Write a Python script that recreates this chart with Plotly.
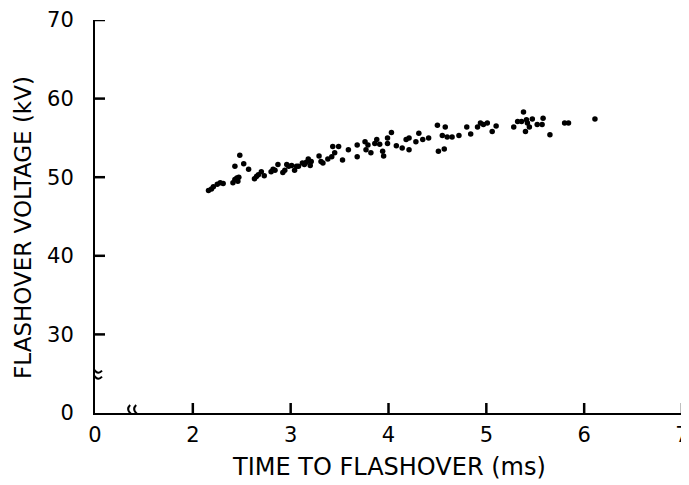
import plotly.graph_objects as go

# Time to flashover (ms)
time_ms = [2.16, 2.19, 2.21, 2.25, 2.28, 2.31, 2.41, 2.43, 2.45, 2.47, 2.46, 2.43, 2.48, 2.52, 2.57,
           2.63, 2.65, 2.67, 2.70, 2.73, 2.80, 2.82, 2.84, 2.87, 2.92, 2.94, 2.96, 2.98, 3.01, 3.04,
           3.06, 3.08, 3.12, 3.14, 3.16, 3.18, 3.20, 3.21, 3.29, 3.31, 3.33, 3.38, 3.42, 3.43, 3.45,
           3.49, 3.53, 3.59, 3.68, 3.68, 3.76, 3.77, 3.79, 3.82, 3.86, 3.88, 3.91, 3.94, 3.95, 3.99,
           3.99, 4.03, 4.08, 4.14, 4.18, 4.21, 4.21, 4.28, 4.31, 4.35, 4.41, 4.50, 4.51, 4.55, 4.57,
           4.58, 4.60, 4.65, 4.72, 4.80, 4.84, 4.91, 4.94, 4.97, 5.01, 5.06, 5.10, 5.28, 5.32, 5.36,
           5.38, 5.41, 5.42, 5.40, 5.44, 5.47, 5.52, 5.57, 5.58, 5.65, 5.80, 5.84, 6.11]
# Flashover voltage (kV)
voltage_kv = [48.3, 48.5, 48.8, 49.1, 49.3, 49.2, 49.3, 49.7, 49.9, 50.0, 49.5, 51.4, 52.8, 51.7, 51.0,
              49.8, 50.1, 50.3, 50.7, 50.2, 50.7, 51.0, 50.9, 51.6, 50.6, 50.9, 51.6, 51.4, 51.5, 50.9,
              51.4, 51.4, 51.8, 51.6, 51.9, 52.3, 51.5, 52.0, 52.7, 52.0, 51.8, 52.3, 52.6, 53.9, 53.1,
              53.9, 52.2, 53.5, 54.1, 52.6, 54.5, 53.5, 54.1, 53.1, 54.3, 54.8, 54.2, 53.3, 52.7, 55.0,
              54.3, 55.7, 54.0, 53.7, 54.8, 55.0, 53.5, 54.5, 55.6, 54.8, 55.0, 56.6, 53.3, 55.3, 53.6,
              56.4, 55.1, 55.1, 55.3, 56.4, 55.5, 56.4, 56.9, 56.7, 56.9, 55.8, 56.5, 56.4, 57.1, 57.1,
              58.3, 57.3, 56.9, 55.8, 56.4, 57.4, 56.7, 56.7, 57.5, 55.4, 56.9, 56.9, 57.4]

x_tickvals = [1, 2, 3, 4, 5, 6, 7]
x_ticktext = ["0", "2", "3", "4", "5", "6", "7"]
y_tickvals = [20, 30, 40, 50, 60, 70]
y_ticktext = ["0", "30", "40", "50", "60", "70"]

x_title = "TIME TO FLASHOVER (ms)"
y_title = "FLASHOVER VOLTAGE (kV)"

X_MIN, X_MAX = x_tickvals[0], x_tickvals[-1]
Y_MIN, Y_MAX = y_tickvals[0], y_tickvals[-1]
X_BREAK, Y_BREAK = 1.39, 25

W, H = 681, 477
M_L, M_R, M_T, M_B = 87, 7, 12, 72
TICK_PX = 10
# tick length converted to data units of each axis
tick_dy = TICK_PX * (Y_MAX - Y_MIN) / (H - M_T - M_B)
tick_dx = TICK_PX * (X_MAX - X_MIN) / (W - M_L - M_R)

FONT = "DejaVu Sans"

fig = go.Figure()

# inward tick marks as line segments
tx, ty = [], []
for v in x_tickvals[1:]:
    tx += [v, v, None]
    ty += [Y_MIN, Y_MIN + tick_dy, None]
for v in y_tickvals[1:]:
    tx += [X_MIN, X_MIN + tick_dx, None]
    ty += [v, v, None]
fig.add_trace(go.Scatter(
    x=tx, y=ty, mode="lines", line=dict(color="black", width=2.5),
    showlegend=False, hoverinfo="skip", cliponaxis=False,
))

fig.add_trace(go.Scatter(
    x=time_ms, y=voltage_kv, mode="markers",
    marker=dict(color="black", size=5.5, line=dict(width=0)),
    showlegend=False, hoverinfo="skip",
))

shapes = []
# axis-break symbols
for dy in (-3, 3):
    shapes.append(dict(type="path", xref="x", yref="y", xsizemode="pixel", ysizemode="pixel",
                       xanchor=X_MIN, yanchor=Y_BREAK,
                       path=f"M-7,{dy} Q-3.5,{dy+4} 0,{dy} Q3.5,{dy-4} 7,{dy}",
                       line=dict(color="black", width=2), layer="above"))
for dx in (-3, 3):
    shapes.append(dict(type="path", xref="x", yref="y", xsizemode="pixel", ysizemode="pixel",
                       xanchor=X_BREAK, yanchor=Y_MIN,
                       path=f"M{dx},-8 Q{dx+4},-4 {dx},0 Q{dx-4},4 {dx},8",
                       line=dict(color="black", width=2), layer="above"))

annotations = [
    dict(text=x_title, xref="paper", yref="paper", x=0.5, y=-0.137,
         xanchor="center", yanchor="middle", showarrow=False,
         font=dict(size=24, family=FONT, color="black")),
    dict(text=y_title, xref="paper", yref="paper", x=-0.123, y=0.473,
         xanchor="center", yanchor="middle", showarrow=False, textangle=-90,
         font=dict(size=23, family=FONT, color="black")),
]

fig.update_layout(
    template="none",
    width=W, height=H,
    margin=dict(l=M_L, r=M_R, t=M_T, b=M_B, pad=0),
    paper_bgcolor="white", plot_bgcolor="white",
    font=dict(family=FONT, color="black"),
    shapes=shapes, annotations=annotations,
    xaxis=dict(
        range=[X_MIN, X_MAX], tickmode="array", tickvals=x_tickvals, ticktext=x_ticktext,
        showgrid=False, zeroline=False, showline=True, linecolor="black", linewidth=2,
        ticks="", tickfont=dict(size=21, family=FONT), ticklabeloverflow="allow",
        ticklabelstandoff=2, automargin=False,
    ),
    yaxis=dict(
        range=[Y_MIN, Y_MAX], tickmode="array", tickvals=y_tickvals, ticktext=y_ticktext,
        showgrid=False, zeroline=False, showline=True, linecolor="black", linewidth=2,
        ticks="", tickfont=dict(size=21, family=FONT), ticklabelstandoff=15,
        ticklabeloverflow="allow", automargin=False,
    ),
)

fig.write_html("out.html")
